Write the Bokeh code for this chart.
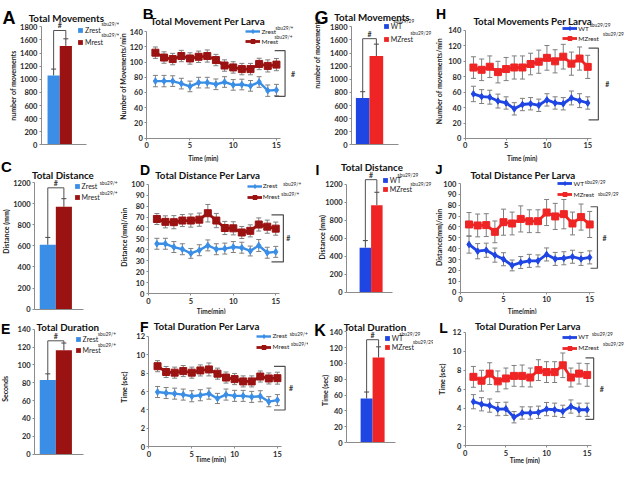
import math
from bokeh.plotting import figure
from bokeh.models import (Range1d, FixedTicker, Label, Legend, LegendItem, Whisker,
                          TeeHead, ColumnDataSource)
from bokeh.layouts import row, column
from bokeh.embed import file_html
from bokeh.resources import INLINE

# ---------------------------------------------------------------- data
minutes = list(range(1, 16))
time_ticks = [0, 5, 10, 15]

het_groups = ["Zrest", "Mrest"]
mz_groups = ["WT", "MZrest"]
het_sup = "sbu29/+"
mz_sup = "sbu29/29"

# bar panels: means, s.e.m., height of significance bracket
movements_het = [1058, 1510]
movements_het_err = [98, 108]
movements_het_sig = 1745
distance_het = [610, 970]
distance_het_err = [70, 77]
distance_het_sig = 1150
duration_het = [83, 116.5]
duration_het_err = [7, 8]
duration_het_sig = 127
movements_mz = [713, 1355]
movements_mz_err = [98, 182]
movements_mz_sig = 1620
distance_mz = [494, 967]
distance_mz_err = [79, 143]
distance_mz_sig = 1250
duration_mz = [55.7, 107.5]
duration_mz_err = [8.2, 13.5]
duration_mz_sig = 130

# line panels (per minute)
mov_zrest = [75, 75, 75, 71.7, 68, 73, 73, 70.8, 73.8, 70, 70.5, 68.7, 73.8, 62.4, 63.2]
mov_zrest_err = [7.5, 7.5, 7, 7, 7, 7, 7, 7, 7, 7, 7, 7, 7, 7.5, 7.5]
mov_mrest = [112.4, 106, 104, 108, 104.8, 107, 108, 102.7, 95.5, 93, 90.8, 90.8, 97.6, 95, 96.7]
mov_mrest_err = [7.5, 7.5, 7.5, 7.5, 7.5, 7.5, 8, 7.5, 7.5, 7.5, 7.5, 7.5, 7.5, 8, 8]
mov_het_bracket = [14.8, 16.0, 115, 55]

dist_zrest = [45.6, 45.6, 42.6, 40.6, 36.8, 39.7, 44.1, 40.6, 41.2, 42.6, 42, 39, 44, 37.4, 38.2]
dist_zrest_err = [5, 5, 5, 5, 4.5, 5, 5, 5, 5, 5, 5, 4.5, 5.5, 5, 5]
dist_mrest = [68.2, 65.6, 65.3, 66.8, 66.8, 67.6, 73.5, 66.8, 60, 59.7, 55.9, 57.4, 63.2, 61.2, 59.4]
dist_mrest_err = [5, 5.5, 6, 5.5, 6, 6, 8, 6.5, 6, 6, 5.5, 5.5, 6, 6, 6]
dist_het_bracket = [14.5, 15.9, 72, 29]

dur_zrest = [5.95, 5.84, 5.77, 5.67, 5.49, 5.6, 5.77, 5.25, 5.67, 5.53, 5.53, 5.42, 5.49, 4.9, 5.07]
dur_zrest_err = [0.6, 0.6, 0.6, 0.6, 0.6, 0.6, 0.6, 0.55, 0.6, 0.6, 0.6, 0.6, 0.6, 0.55, 0.6]
dur_mrest = [8.75, 8.12, 8.05, 8.22, 8.05, 8.29, 8.4, 7.94, 7.52, 7.35, 7.1, 7.1, 7.63, 7.42, 7.45]
dur_mrest_err = [0.6, 0.6, 0.6, 0.6, 0.6, 0.6, 0.7, 0.6, 0.6, 0.6, 0.6, 0.6, 0.6, 0.6, 0.65]
dur_het_bracket = [14.6, 15.9, 8.74, 4.0]

mov_wt = [57.7, 54.3, 53.5, 48.5, 46, 38.4, 44, 45, 43, 50, 46, 45, 52.5, 49, 46]
mov_wt_err = [10, 9, 9, 9, 8, 8, 8, 8, 8, 8, 8, 8, 9, 9, 8]
mov_mz = [91.9, 89, 93, 86, 90, 92, 92, 96.5, 99.5, 104.5, 100, 106, 97, 103.6, 92.8]
mov_mz_err = [14, 14, 14, 14, 15, 15, 15, 14, 15, 16, 15, 16, 15, 15, 15]
mov_mz_bracket = [15.1, 16.3, 117, 24]

dist_wt = [43.9, 37.7, 38.6, 34.1, 30.3, 24.6, 27.3, 28.8, 28.8, 34.7, 30.6, 31.2, 32.6, 30.6, 32]
dist_wt_err = [8, 7, 6.5, 6.5, 6, 5, 5.5, 6, 5.5, 6, 6, 6, 6, 6, 6]
dist_mz = [62.3, 61.4, 61.7, 55.5, 64.4, 63.2, 67.4, 65.3, 65.3, 73.3, 69.7, 71.8, 63.2, 69.1, 62.3]
dist_mz_err = [11, 10.5, 10.5, 10, 12, 10.5, 12, 10.5, 10.5, 12, 12, 13.5, 10.5, 12, 12]
dist_mz_bracket = [15.1, 15.9, 78.6, 22]

dur_wt = [4.67, 4.4, 4.26, 3.89, 3.92, 3.03, 3.48, 3.48, 3.55, 3.89, 3.82, 3.65, 4.16, 3.82, 3.82]
dur_wt_err = [0.75, 0.7, 0.7, 0.7, 0.7, 0.6, 0.65, 0.65, 0.65, 0.7, 0.7, 0.65, 0.7, 0.7, 0.7]
dur_mz = [7.3, 6.89, 7.64, 6.82, 7.13, 7.4, 7.4, 7.23, 8.01, 7.8, 7.8, 8.52, 7.23, 7.64, 7.5]
dur_mz_err = [1.1, 1.1, 1.15, 1.1, 1.1, 1.1, 1.15, 1.0, 1.1, 1.1, 1.1, 1.3, 1.0, 1.1, 1.2]
dur_mz_bracket = [14.8, 15.8, 9.3, 2.8]

# ---------------------------------------------------------------- style / geometry
ZC = "#3b8ee6"
MC = "#9a1212"
WC = "#1f45e3"
RC = "#ef2424"
AXIS_C = "#8c8c8c"
TICK_TXT = "#2b2b2b"
ERR_C = "#7f7f7f"
BRK_C = "#505050"
FONT = "Lato"

SX = 624 / 640
SY = 465 / 481
COL_PX = [0, 119, 308, 433]
COL_W = [119, 189, 125, 191]
ROW_PX = [0, 153, 314]
ROW_H = [153, 161, 151]
COL_REF = [c / SX for c in COL_PX]
ROW_REF = [r / SY for r in ROW_PX]

FIGS = {}


class Geo:
    def __init__(self, col, rw):
        self.col, self.rw = col, rw
        self.w, self.h = COL_W[col], ROW_H[rw]

    def fx(self, xr):
        return (xr - COL_REF[self.col]) * SX

    def fy(self, yr):
        return (yr - ROW_REF[self.rw]) * SY


def base_fig(g, xr, yr):
    # the frame fills the whole canvas; axes are pinned with fixed_location
    p = figure(width=g.w, height=g.h, x_range=xr, y_range=yr,
               output_backend="svg", toolbar_location=None, min_border=0)
    p.outline_line_color = None
    p.xgrid.visible = False
    p.ygrid.visible = False
    p.border_fill_color = "white"
    p.background_fill_color = "white"
    for ax in (p.xaxis[0], p.yaxis[0]):
        ax.axis_line_color = AXIS_C
        ax.major_tick_line_color = AXIS_C
        ax.minor_tick_line_color = None
        ax.major_tick_in = 0
        ax.major_tick_out = 2
        ax.major_label_text_font = FONT
        ax.major_label_text_font_size = "7.5px"
        ax.major_label_text_font_style = "bold"
        ax.major_label_text_color = TICK_TXT
        ax.major_label_standoff = 2
    FIGS[(g.col, g.rw)] = (p, g)
    return p


def add_legend(p, g, items, x_ref, y_ref, step_ref, gw, gh, font_px, standoff=2):
    item_h = max(gh, font_px * 1.2)
    spacing = max(0, int(round(step_ref * SY - item_h)))
    top = g.fy(y_ref) - gh / 2
    n = len(items)
    height = n * item_h + (n - 1) * spacing
    leg = Legend(items=items, location=(g.fx(x_ref), g.h - (top + height)),
                 orientation="vertical", padding=0, margin=0, spacing=spacing,
                 glyph_width=gw, glyph_height=gh, label_height=gh,
                 label_standoff=standoff, label_text_font=FONT,
                 label_text_font_size=f"{font_px}px", label_text_color="#222222",
                 border_line_alpha=0, background_fill_alpha=0)
    p.add_layout(leg)


def bar_panel(col, rw, groups, vals, errs, sig, colors, ymax, ystep,
              ax_l, ax_r, c1, c2, ytop_ref, y0_ref):
    g = Geo(col, rw)
    pos = [i + 1 for i in range(len(groups))]
    pc1, pc2 = g.fx(c1), g.fx(c2)
    ppx = (pc2 - pc1) / (pos[1] - pos[0])

    def tox(px):
        return pos[0] + (px - pc1) / ppx

    py0 = g.fy(y0_ref)
    ppy = (py0 - g.fy(ytop_ref)) / ymax
    p = base_fig(g, Range1d(tox(0), tox(g.w)), Range1d(-(g.h - py0) / ppy, py0 / ppy))
    x_left, x_right = tox(g.fx(ax_l)), tox(g.fx(ax_r))
    p.yaxis.fixed_location = x_left
    p.yaxis.bounds = (0, ymax)
    p.yaxis.ticker = FixedTicker(ticks=list(range(0, ymax + 1, ystep)))
    p.xaxis.fixed_location = 0
    p.xaxis.bounds = (x_left, x_right)
    p.xaxis.ticker = FixedTicker(ticks=[])
    p.xaxis.major_label_text_font_size = "0px"
    p.xaxis.major_tick_out = 0
    items = []
    for i, name in enumerate(groups):
        r = p.vbar(x=[pos[i]], top=[vals[i]], width=1.0, fill_color=colors[i], line_color=None)
        items.append(LegendItem(label=name, renderers=[r]))
    hi = [v + e for v, e in zip(vals, errs)]
    src = ColumnDataSource(dict(x=pos, lo=vals, hi=hi))
    p.add_layout(Whisker(source=src, base="x", lower="lo", upper="hi",
                         line_color="#444444", line_width=1,
                         upper_head=TeeHead(size=5, line_color="#444444", line_width=1),
                         lower_head=None))
    p.line(x=[pos[0], pos[0], pos[1], pos[1]], y=[hi[0], sig, sig, hi[1]],
           line_color=BRK_C, line_width=1)
    p.add_layout(Label(x=(pos[0] + pos[1]) / 2, y=sig, y_offset=1, text="#",
                       text_align="center", text_baseline="bottom", text_font=FONT,
                       text_font_size="7px", text_font_style="bold", text_color="#333333"))
    return p, g, items


def line_panel(col, rw, series, ymax, ystep, x0_ref, x15_ref, ytop_ref, y0_ref,
               bracket, hash_dx):
    g = Geo(col, rw)
    px0 = g.fx(x0_ref)
    ppx = (g.fx(x15_ref) - px0) / 15
    py0 = g.fy(y0_ref)
    ppy = (py0 - g.fy(ytop_ref)) / ymax
    p = base_fig(g, Range1d(-px0 / ppx, (g.w - px0) / ppx),
                 Range1d(-(g.h - py0) / ppy, py0 / ppy))
    p.xaxis.fixed_location = 0
    p.yaxis.fixed_location = 0
    p.xaxis.bounds = (0, 15.5)
    p.yaxis.bounds = (0, ymax)
    p.xaxis.ticker = FixedTicker(ticks=time_ticks)
    p.yaxis.ticker = FixedTicker(ticks=list(range(0, ymax + 1, ystep)))
    items = []
    for vals, errs, color, marker, msize, lw, name in series:
        src = ColumnDataSource(dict(x=minutes, y=vals,
                                    lo=[v - e for v, e in zip(vals, errs)],
                                    hi=[v + e for v, e in zip(vals, errs)]))
        p.add_layout(Whisker(source=src, base="x", lower="lo", upper="hi",
                             line_color=ERR_C, line_width=1, level="underlay",
                             upper_head=TeeHead(size=5, line_color=ERR_C, line_width=1),
                             lower_head=TeeHead(size=5, line_color=ERR_C, line_width=1)))
        lr = p.line("x", "y", source=src, line_color=color, line_width=lw)
        sr = p.scatter("x", "y", source=src, marker=marker, size=msize,
                       fill_color=color, line_color=color)
        items.append(LegendItem(label=name, renderers=[lr, sr]))
    tip, bx, top, bot = bracket
    p.line(x=[tip, bx, bx, tip], y=[top, top, bot, bot], line_color=BRK_C, line_width=1.2)
    p.add_layout(Label(x=bx, y=(top + bot) / 2, x_offset=hash_dx, text="#",
                       text_align="center", text_baseline="middle", text_font=FONT,
                       text_font_size="7px", text_font_style="bold", text_color="#333333"))
    return p, g, items


def place(xr, yr, text, size, bold=True, align="center", baseline="middle",
          angle=0.0, color="#111111", font=FONT):
    col = max(i for i in range(4) if xr >= COL_REF[i] - 0.01)
    rw = max(i for i in range(3) if yr >= ROW_REF[i] - 0.01)
    p, g = FIGS[(col, rw)]
    fx = (xr - COL_REF[col]) * SX
    fy = (yr - ROW_REF[rw]) * SY
    p.add_layout(Label(x=fx, y=g.h - fy, x_units="screen", y_units="screen",
                       text=text, text_font=font, text_font_size=f"{size}px",
                       text_font_style="bold" if bold else "normal",
                       text_align=align, text_baseline=baseline, angle=angle,
                       text_color=color))


# ---------------------------------------------------------------- panels
pA, gA, iA = bar_panel(0, 0, het_groups, movements_het, movements_het_err, movements_het_sig,
                       [ZC, MC], 1800, 200, 42, 88, 54.5, 67, 27.3, 149.3)
pC, gC, iC = bar_panel(0, 1, het_groups, distance_het, distance_het_err, distance_het_sig,
                       [ZC, MC], 1200, 200, 35, 85, 48.5, 65, 188.3, 319.3)
pE, gE, iE = bar_panel(0, 2, het_groups, duration_het, duration_het_err, duration_het_sig,
                       [ZC, MC], 140, 20, 35, 85, 48.5, 65, 340, 469.3)
pG, gG, iG = bar_panel(2, 0, mz_groups, movements_mz, movements_mz_err, movements_mz_sig,
                       [WC, RC], 1800, 200, 360, 408, 371.5, 385.5, 27.3, 149.3)
pI, gI, iI = bar_panel(2, 1, mz_groups, distance_mz, distance_mz_err, distance_mz_sig,
                       [WC, RC], 1200, 200, 355, 402, 374.2, 386, 190, 301.7)
pK, gK, iK = bar_panel(2, 2, mz_groups, duration_mz, duration_mz_err, duration_mz_sig,
                       [WC, RC], 140, 20, 355, 405, 375.5, 387.8, 342.7, 457.3)


def het_series(z, ze, m, me):
    return [(z, ze, ZC, "diamond", 6.5, 2.4, "Zrest"), (m, me, MC, "square", 7, 2.8, "Mrest")]


def mz_series(w, we, m, me):
    return [(w, we, WC, "diamond", 6.5, 2.8, "WT"), (m, me, RC, "square", 7, 2.8, "MZrest")]


pB, gB, iB = line_panel(1, 0, het_series(mov_zrest, mov_zrest_err, mov_mrest, mov_mrest_err),
                        140, 20, 150, 283, 32.3, 142.3, mov_het_bracket, 8)
pD, gD, iD = line_panel(1, 1, het_series(dist_zrest, dist_zrest_err, dist_mrest, dist_mrest_err),
                        100, 10, 151.7, 282.3, 190, 303.3, dist_het_bracket, 5)
pF, gF, iF = line_panel(1, 2, het_series(dur_zrest, dur_zrest_err, dur_mrest, dur_mrest_err),
                        12, 2, 152.3, 284, 347.3, 461.7, dur_het_bracket, 6)
pH, gH, iH = line_panel(3, 0, mz_series(mov_wt, mov_wt_err, mov_mz, mov_mz_err),
                        140, 20, 476.7, 602.3, 31, 142.7, mov_mz_bracket, 9)
pJ, gJ, iJ = line_panel(3, 1, mz_series(dist_wt, dist_wt_err, dist_mz, dist_mz_err),
                        100, 10, 471.7, 604.3, 189.3, 301.7, dist_mz_bracket, 7)
pL, gL, iL = line_panel(3, 2, mz_series(dur_wt, dur_wt_err, dur_mz, dur_mz_err),
                        12, 2, 476.7, 601.7, 343.3, 460.7, dur_mz_bracket, 8)

# legends
add_legend(pA, gA, iA, 79, 29.2, 13, 6, 6, 7)
add_legend(pC, gC, iC, 75.5, 190.7, 12, 6, 6, 7)
add_legend(pE, gE, iE, 76.5, 349.3, 11.7, 6, 6, 7)
add_legend(pG, gG, iG, 392.5, 25, 14.3, 6, 6, 7)
add_legend(pI, gI, iI, 391.5, 184, 9.5, 6, 6, 7)
add_legend(pK, gK, iK, 393.5, 347.3, 10, 6, 6, 7)
add_legend(pB, gB, iB, 251.7, 32.3, 10, 15, 10, 6.5, 1)
add_legend(pD, gD, iD, 253, 192.3, 11, 15, 10, 6.5, 1)
add_legend(pF, gF, iF, 263, 347.3, 11, 15, 10, 6.5, 1)
add_legend(pH, gH, iH, 576.7, 29, 10, 15, 10, 6.5, 1)
add_legend(pJ, gJ, iJ, 571.7, 189.3, 11.4, 15, 10, 6.5, 1)
add_legend(pL, gL, iL, 576.7, 348.3, 11, 15, 10, 6.5, 1)

# legend superscripts
sups = [(103.5, 24.7, het_sup), (103.5, 36, het_sup),
        (101.7, 188.5, het_sup), (101.7, 199.3, het_sup),
        (100, 345, het_sup), (100, 356.7, het_sup),
        (282, 28, het_sup), (281, 38, het_sup),
        (290, 190, het_sup), (288, 200, het_sup),
        (296.7, 345, het_sup), (298, 355, het_sup),
        (403, 21.5, mz_sup), (420.5, 33.3, mz_sup),
        (407.3, 180.7, mz_sup), (420.5, 190, mz_sup),
        (409.3, 345, mz_sup), (423, 353.3, mz_sup),
        (604.3, 25, mz_sup), (618, 35, mz_sup),
        (599.3, 187.7, mz_sup), (612.7, 200, mz_sup),
        (606.7, 345, mz_sup), (618, 355, mz_sup)]
for x, y, t in sups:
    place(x, y, t, 4.8, bold=False, align="left", color="#222222")

# panel letters
letters = [("A", 2, 18.5, 18), ("B", 146, 13.5, 15), ("C", 0.5, 172, 15), ("D", 143, 175, 14),
           ("E", 0.5, 340, 14), ("F", 143, 338, 14), ("G", 322, 18, 18), ("H", 446.7, 13.5, 14),
           ("I", 323, 175, 14), ("J", 446, 175, 13), ("K", 321.7, 341.7, 16), ("L", 450, 338.5, 14)]
for t, x, y, s in letters:
    place(x, y, t, s, align="left", baseline="alphabetic", font="Liberation Sans", color="#000000")

# titles
titles = [("Total Movements", 67.5, 18.5), ("Total Movement Per Larva", 212.5, 21.5),
          ("Total Distance", 64, 180), ("Total Distance Per Larva", 212.5, 180),
          ("Total Duration", 69, 338), ("Total Duration Per Larva", 211.5, 337),
          ("Total Movements", 381, 17.5), ("Total Movements Per Larva", 545.8, 21.5),
          ("Total Distance", 381, 172), ("Total Distance Per Larva", 535.8, 180),
          ("Total Duration", 384, 338), ("Total Duration Per Larva", 540.8, 337)]
for t, x, y in titles:
    place(x, y, t, 9.8, baseline="alphabetic", color="#111111")

# y-axis titles
ytitles = [("number of movements", 12.5, 88), ("Number of Movements/min", 126, 78.5),
           ("Distance (mm)", 6, 239), ("Distance (mm)/min", 126.7, 245),
           ("Seconds", 5, 401.7), ("Time (sec)", 126.7, 400),
           ("number of movements", 325, 55), ("Number of movements/min", 450, 83.3),
           ("Distance (mm)", 330, 245), ("Distance(mm)/min", 449.5, 245),
           ("Time (sec)", 333.3, 403.3), ("Time (sec)", 453.3, 391.7)]
for t, x, y in ytitles:
    place(x, y, t, 7, angle=math.pi / 2, color="#222222")

# x-axis titles
xtitles = [("Time (min)", 208, 163.8), ("Time(min)", 216, 321.5), ("Time (min)", 215.7, 475),
           ("Time (min)", 535, 163.3), ("Time(min)", 535, 321.5), ("Time (min)", 537.7, 476)]
for t, x, y in xtitles:
    place(x, y, t, 6.5, color="#222222")

layout = column(row(pA, pB, pG, pH), row(pC, pD, pI, pJ), row(pE, pF, pK, pL))
open("out.html", "w").write(file_html(layout, INLINE, "Larval movement"))
